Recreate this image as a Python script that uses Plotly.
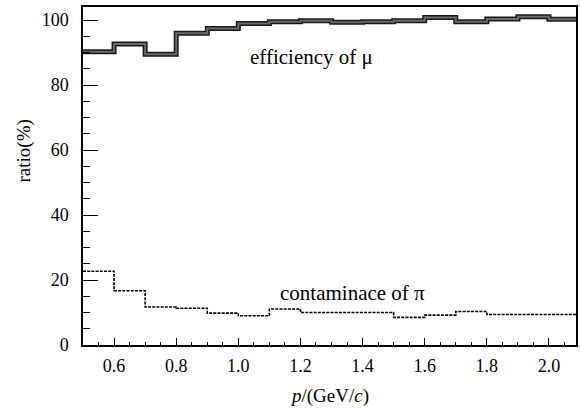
import plotly.graph_objects as go

bin_edges = [0.5, 0.6, 0.7, 0.8, 0.9, 1.0, 1.1, 1.2, 1.3, 1.4, 1.5, 1.6, 1.7, 1.8, 1.9, 2.0, 2.1]
efficiency_mu = [90.2, 92.6, 89.5, 95.9, 97.4, 98.9, 99.5, 99.8, 99.3, 99.5, 99.8, 100.8, 99.5, 100.3, 101.0, 100.2]
contamination_pi = [22.7, 16.7, 11.7, 11.3, 9.8, 9.0, 11.1, 10.0, 10.0, 10.0, 8.5, 9.2, 10.3, 9.4, 9.4, 9.4]
x_tick_vals = [0.6, 0.8, 1.0, 1.2, 1.4, 1.6, 1.8, 2.0]
x_tick_text = ["0.6", "0.8", "1.0", "1.2", "1.4", "1.6", "1.8", "2.0"]
y_tick_vals = [0, 20, 40, 60, 80, 100]

SERIF = "'Liberation Serif', 'Times New Roman', Times, serif"

def step_y(vals):
    return list(vals) + [vals[-1]]

fig = go.Figure()
fig.add_trace(go.Scatter(x=bin_edges, y=step_y(efficiency_mu), mode="lines",
                         line=dict(shape="hv", color="#1a1a1a", width=5),
                         showlegend=False, hoverinfo="skip"))
fig.add_trace(go.Scatter(x=bin_edges, y=step_y(efficiency_mu), mode="lines",
                         line=dict(shape="hv", color="#6a6a6a", width=2),
                         showlegend=False, hoverinfo="skip"))
fig.add_trace(go.Scatter(x=bin_edges, y=step_y(contamination_pi), mode="lines",
                         line=dict(shape="hv", color="black", width=1.6, dash="3px,1.2px"),
                         showlegend=False, hoverinfo="skip"))

fig.add_annotation(x=1.237, y=88.7, text="efficiency of \u03bc", showarrow=False,
                   font=dict(family=SERIF, size=21, color="black"))
fig.add_annotation(x=1.367, y=15.9, text="contaminace of \u03c0", showarrow=False,
                   font=dict(family=SERIF, size=21, color="black"))
fig.add_annotation(x=0.5, xref="paper", y=-0.152, yref="paper", xanchor="center", yanchor="middle",
                   text="<i>p</i>/(GeV/<i>c</i>)", showarrow=False,
                   font=dict(family=SERIF, size=19, color="black"))
fig.add_annotation(x=-0.12, xref="paper", y=0.575, yref="paper", xanchor="center", yanchor="middle",
                   textangle=-90, text="ratio(%)", showarrow=False,
                   font=dict(family=SERIF, size=19, color="black"))

fig.update_layout(
    width=580, height=412,
    margin=dict(l=83, r=4, t=7, b=67, autoexpand=False),
    paper_bgcolor="white", plot_bgcolor="white",
    font=dict(family=SERIF, size=18, color="black"),
    xaxis=dict(range=[0.5, 2.087], tickvals=x_tick_vals, ticktext=x_tick_text,
               ticks="inside", ticklen=7, tickwidth=1.2, tickcolor="black",
               minor=dict(dtick=0.05, tick0=0.5, ticks="inside", ticklen=3.5, tickwidth=1, tickcolor="black"),
               showgrid=False, zeroline=False, showline=True, linecolor="black", linewidth=1.5, mirror=True,
               automargin=False, ticklabelstandoff=4,
               tickfont=dict(family=SERIF, size=18)),
    yaxis=dict(range=[0, 104], tickvals=y_tick_vals,
               ticks="inside", ticklen=15, tickwidth=1.2, tickcolor="black",
               minor=dict(dtick=5, tick0=0, ticks="inside", ticklen=7.5, tickwidth=1, tickcolor="black"),
               showgrid=False, zeroline=False, showline=True, linecolor="black", linewidth=1.5, mirror=True,
               automargin=False, ticklabelstandoff=9,
               tickfont=dict(family=SERIF, size=18)),
)

fig.write_html("out.html", config={"displayModeBar": False},
               post_script="document.body.style.margin='0';document.body.style.padding='0';document.body.style.overflow='hidden';")
